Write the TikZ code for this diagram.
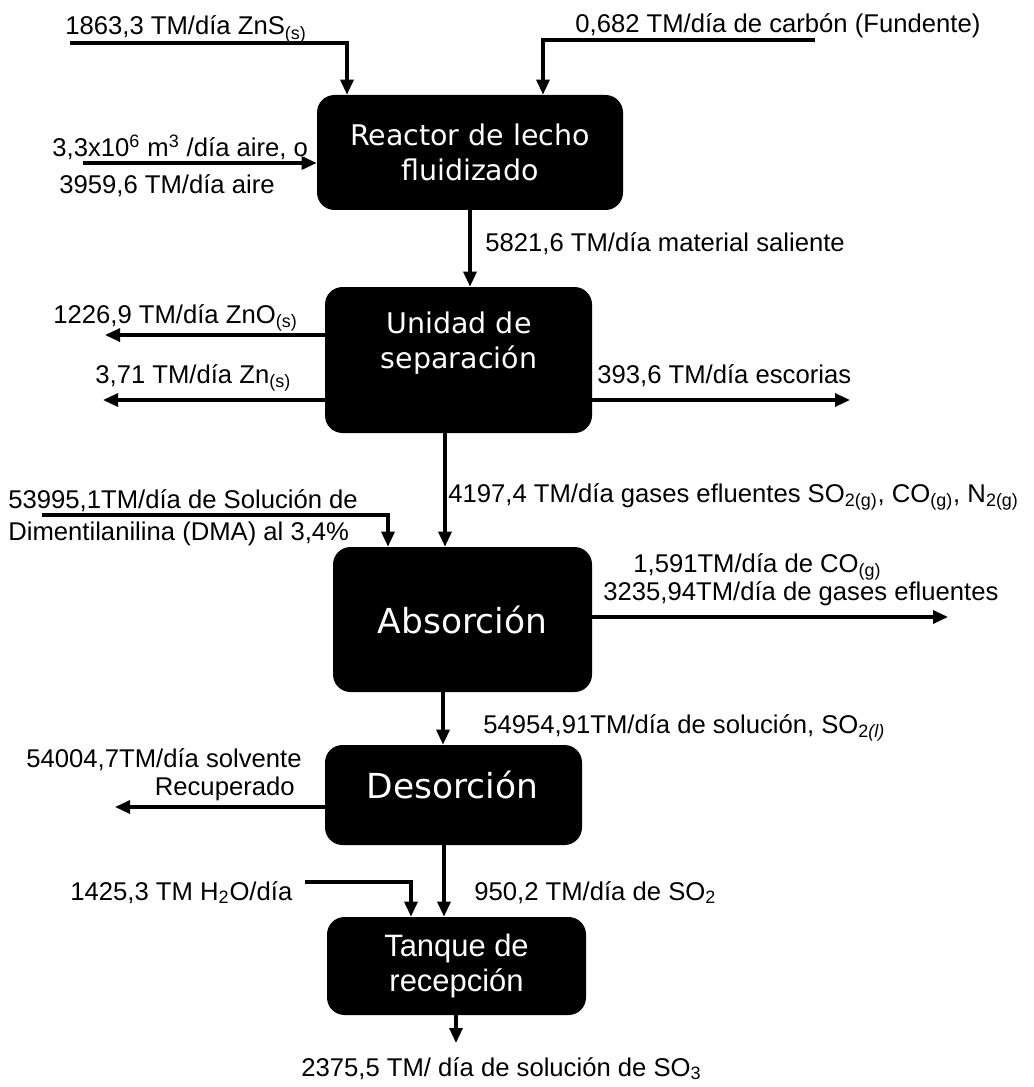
\documentclass[tikz,border=0pt]{standalone}
\usepackage{fontspec}
\setmainfont{Liberation Sans}
\newfontfamily\boxfont{DejaVu Sans}
\usetikzlibrary{arrows.meta}
\newcommand{\sub}[1]{\textsubscript{#1}}

\begin{document}
\begin{tikzpicture}[
    flow/.style={-{Triangle[length=0.3cm,width=0.26cm]},line width=1.8pt},
    proc/.style={fill=black,text=white,rounded corners=0.35cm,align=center,inner sep=0},
    boxtxt/.style={text=white,align=center,inner sep=0,font=\boxfont\fontsize{16.2}{19.8}\selectfont},
    bigtxt/.style={text=white,inner sep=0,font=\boxfont\fontsize{19.6}{23}\selectfont},
    lbl/.style={inner sep=0,font=\fontsize{14.6}{17.5}\selectfont}]
  \useasboundingbox (0,0) rectangle (20.68,-21.74);

  % equipos
  \node[proc,minimum width=6.12cm,minimum height=2.3cm,font=\boxfont\fontsize{16.2}{19.8}\selectfont] (reactor) at (9.4,-3.05) {Reactor de lecho\\fluidizado};
  \node[proc,minimum width=5.34cm,minimum height=2.92cm] (sep) at (9.17,-7.2) {};
  \node[boxtxt] (sep-t) at (9.18,-6.86) {Unidad de\\separación};
  \node[proc,minimum width=5.18cm,minimum height=2.9cm,font=\boxfont\fontsize{19.6}{23}\selectfont] (abs) at (9.25,-12.39) {Absorción};
  \node[proc,minimum width=5.14cm,minimum height=2cm] (des) at (9.07,-15.9) {};
  \node[bigtxt] (des-t) at (9.05,-15.7) {Desorción};
  \node[proc,minimum width=5.18cm,minimum height=1.96cm,font=\fontsize{17.6}{19.8}\selectfont] (tanque) at (9.13,-19.32) {Tanque de\\recepción};

  % extremos libres
  \coordinate (zns-in) at (1.4,-0.86);
  \coordinate (carb-in) at (16.3,-0.8);
  \coordinate (air-in) at (1.66,-3.26);
  \coordinate (zno-out) at (2.1,-6.7);
  \coordinate (zn-out) at (2.06,-8.0);
  \coordinate (esc-out) at (17.0,-8.0);
  \coordinate (dma-in) at (0.84,-10.3);
  \coordinate (gas-out) at (18.96,-12.34);
  \coordinate (solv-out) at (2.3,-16.14);
  \coordinate (h2o-in) at (6.1,-17.64);
  \coordinate (prod) at (9.12,-20.86);

  % corrientes
  \draw[flow] (zns-in) -| (reactor.north -| 6.94,0);
  \draw[flow] (carb-in) -| (reactor.north -| 10.86,0);
  \draw[flow] (air-in) -- (air-in -| reactor.west);
  \draw[flow] (reactor.south) -- (reactor.south |- sep.north);
  \draw[flow] (zno-out -| sep.west) -- (zno-out);
  \draw[flow] (zn-out -| sep.west) -- (zn-out);
  \draw[flow] (esc-out -| sep.east) -- (esc-out);
  \draw[flow] (sep.south -| 8.9,0) -- (abs.north -| 8.9,0);
  \draw[flow] (dma-in) -| (abs.north -| 7.76,0);
  \draw[flow] (gas-out -| abs.east) -- (gas-out);
  \draw[flow] (abs.south -| 8.86,0) -- (des.north -| 8.86,0);
  \draw[flow] (solv-out -| des.west) -- (solv-out);
  \draw[flow] (des.south -| 8.88,0) -- (tanque.north -| 8.88,0);
  \draw[flow] (h2o-in) -| (tanque.north -| 8.22,0);
  \draw[flow] (tanque.south -| prod) -- (prod);

  % etiquetas
  \node[lbl,anchor=base west] (l-zns) at (1.3,-0.7) {1863,3 TM/día ZnS\sub{(s)}};
  \node[lbl,anchor=base west] (l-carb) at (11.5,-0.66) {0,682 TM/día de carbón (Fundente)};
  \node[lbl,anchor=base west] (l-aire1) at (1.04,-3.14) {3,3x10\textsuperscript{6} m\textsuperscript{3} /día aire, o};
  \node[lbl,anchor=base west] (l-aire2) at (1.18,-3.86) {3959,6 TM/día aire};
  \node[lbl,anchor=base west] (l-sal) at (9.7,-5.02) {5821,6 TM/día material saliente};
  \node[lbl,anchor=base west] (l-zno) at (1.06,-6.46) {1226,9 TM/día ZnO\sub{(s)}};
  \node[lbl,anchor=base west] (l-zn) at (1.9,-7.66) {3,71 TM/día Zn\sub{(s)}};
  \node[lbl,anchor=base west] (l-esc) at (11.94,-7.66) {393,6 TM/día escorias};
  \node[lbl,anchor=base west] (l-dma1) at (0.16,-10.16) {53995,1TM/día de Solución de};
  \node[lbl,anchor=base west] (l-dma2) at (0.16,-10.8) {Dimentilanilina (DMA) al 3,4\%};
  \node[lbl,anchor=base west] (l-gas) at (8.96,-10.04) {4197,4 TM/día gases efluentes SO\sub{2(g)}, CO\sub{(g)}, N\sub{2(g)}};
  \node[lbl,anchor=base west] (l-co) at (12.66,-11.44) {1,591TM/día de CO\sub{(g)}};
  \node[lbl,anchor=base west] (l-efl) at (12.06,-12.0) {3235,94TM/día de gases efluentes};
  \node[lbl,anchor=base west] (l-sol) at (9.66,-14.66) {54954,91TM/día de solución, SO\sub{2\itshape(l)}};
  \node[lbl,anchor=base west] (l-solv1) at (0.52,-15.34) {54004,7TM/día solvente};
  \node[lbl,anchor=base east] (l-solv2) at (5.9,-15.9) {Recuperado};
  \node[lbl,anchor=base west] (l-h2o) at (1.4,-18.0) {1425,3 TM H\sub{2}O/día};
  \node[lbl,anchor=base west] (l-so2) at (9.48,-18.0) {950,2 TM/día de SO\sub{2}};
  \node[lbl,anchor=base west] (l-so3) at (6.02,-21.52) {2375,5 TM/ día de solución de SO\sub{3}};
\end{tikzpicture}
\end{document}
